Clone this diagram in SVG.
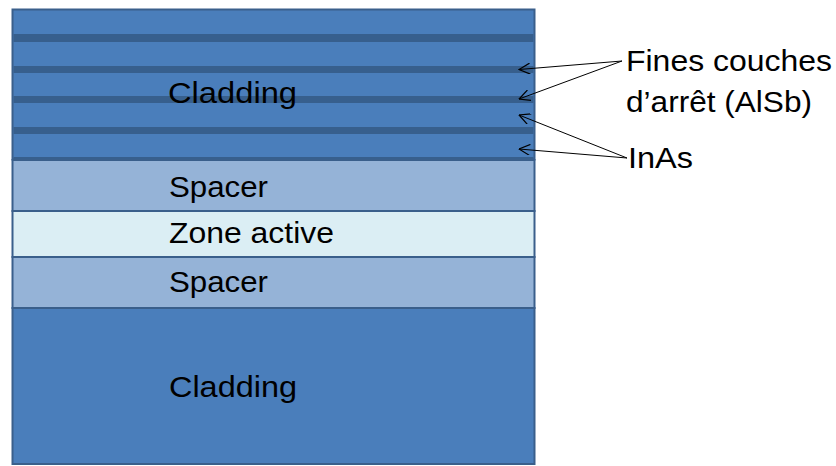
<svg xmlns="http://www.w3.org/2000/svg" width="836" height="466" viewBox="0 0 836 466">
<style>
.layer{stroke:#3a5f8b;stroke-width:2}
.clad{fill:#4a7ebb}
.stop{fill:#375f8d}
.spacer{fill:#95b3d7}
.zone{fill:#dbeef4}
text{font-family:"Liberation Sans",Arial,sans-serif;font-size:29.5px;fill:#000}
.conn{stroke:#000;stroke-width:1;fill:none}
</style>
<defs>
<marker id="arr" viewBox="0 0 10 10" refX="10" refY="5" markerWidth="12" markerHeight="11" markerUnits="userSpaceOnUse" orient="auto">
<path d="M0,0 L10,5 L0,10" fill="none" stroke="#000" stroke-width="1.1"/>
</marker>
</defs>
<rect x="0" y="0" width="836" height="466" fill="#fff"/>
<g id="cladding-top">
<rect class="layer clad" x="12.5" y="9.5" width="522" height="150"/>
<rect class="stop" x="13.5" y="34" width="520" height="8"/>
<rect class="stop" x="13.5" y="66" width="520" height="7"/>
<rect class="stop" x="13.5" y="96" width="520" height="7"/>
<rect class="stop" x="13.5" y="127" width="520" height="7"/>
<rect class="stop" x="13.5" y="157" width="520" height="3"/>
<text x="168" y="103" textLength="129" lengthAdjust="spacingAndGlyphs">Cladding</text>
</g>
<g id="spacer-top">
<rect class="layer spacer" x="12.5" y="160" width="522" height="51"/>
<text x="169" y="197" textLength="99" lengthAdjust="spacingAndGlyphs">Spacer</text>
</g>
<g id="zone-active">
<rect class="layer zone" x="12.5" y="211" width="522" height="46"/>
<text x="169" y="243" textLength="165" lengthAdjust="spacingAndGlyphs">Zone active</text>
</g>
<g id="spacer-bottom">
<rect class="layer spacer" x="12.5" y="257" width="522" height="51"/>
<text x="169" y="292" textLength="99" lengthAdjust="spacingAndGlyphs">Spacer</text>
</g>
<g id="cladding-bottom">
<rect class="layer clad" x="12.5" y="308" width="522" height="156"/>
<text x="169" y="397" textLength="128" lengthAdjust="spacingAndGlyphs">Cladding</text>
</g>
<g id="label-alsb">
<text x="626" y="71" textLength="206" lengthAdjust="spacingAndGlyphs">Fines couches</text>
<text x="626" y="112" textLength="186" lengthAdjust="spacingAndGlyphs">d’arrêt (AlSb)</text>
</g>
<g id="label-inas">
<text x="628" y="168" textLength="65" lengthAdjust="spacingAndGlyphs">InAs</text>
</g>
<g id="connectors">
<line class="conn" x1="622" y1="61" x2="519" y2="69.5" marker-end="url(#arr)"/>
<line class="conn" x1="622" y1="61" x2="519" y2="99" marker-end="url(#arr)"/>
<line class="conn" x1="627" y1="158" x2="519" y2="115" marker-end="url(#arr)"/>
<line class="conn" x1="627" y1="158" x2="519" y2="149" marker-end="url(#arr)"/>
</g>
</svg>
